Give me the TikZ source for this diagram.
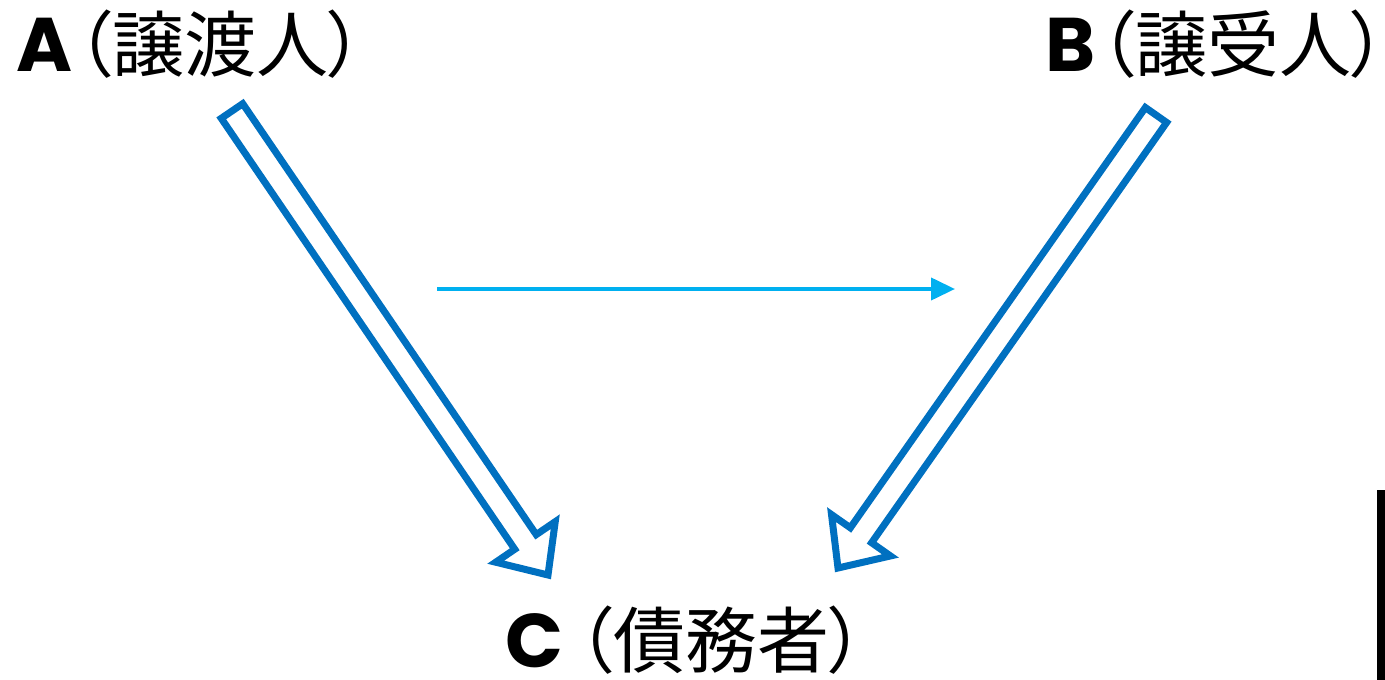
\documentclass[tikz,border=0pt]{standalone}
\usepackage{fontspec}
\newfontfamily\jp{Noto Sans CJK JP}[RawFeature=+palt]
\newfontfamily\lat{Poppins}
\usetikzlibrary{calc,arrows.meta}
\definecolor{blockblue}{RGB}{0,112,192}
\definecolor{lightblue}{RGB}{0,176,240}
\newcommand\latletter[1]{{\lat\bfseries\fontsize{76}{80}\selectfont #1}}
\tikzset{
  label text/.style={inner sep=0pt, font=\jp\fontsize{72}{80}\selectfont},
  blockarr/.style={draw=blockblue, line width=7pt, line join=miter, fill=white},
  thinarr/.style={draw=lightblue, line width=4pt, -{Triangle[length=24pt,width=22pt]}}
}
\newcommand\blkarrow[2]{%
  \coordinate (hb) at ($(#2)!40pt!(#1)$);
  \draw[blockarr] ($(#1)!13pt!90:(#2)$) -- ($(#1)!13pt!-90:(#2)$)
    -- ($(hb)!13pt!90:(#1)$) -- ($(hb)!36pt!90:(#1)$) -- (#2)
    -- ($(hb)!36pt!-90:(#1)$) -- ($(hb)!13pt!-90:(#1)$) -- cycle;
}
\begin{document}
\begin{tikzpicture}[x=1pt,y=1pt]
\useasboundingbox (0,0) rectangle (1385,-680);
\node[label text, anchor=west] (A) at (16,-44) {\latletter{A}\kern4pt（譲渡人）};
\node[label text, anchor=west] (B) at (1045,-44) {\latletter{B}\kern4pt（譲受人）};
\node[label text, anchor=west] (C) at (505,-640) {\latletter{C}\kern14pt（債務者）};
\coordinate (ta) at (232,-111);
\coordinate (pa) at (548,-575);
\coordinate (tb) at (1156,-115);
\coordinate (pb) at (838,-568);
\blkarrow{ta}{pa}
\blkarrow{tb}{pb}
\coordinate (ls) at (437,-289);
\coordinate (le) at (955,-289);
\draw[thinarr] (ls) -- (le);
\fill[black] (1377,-490) rectangle (1385,-680);
\end{tikzpicture}
\end{document}
